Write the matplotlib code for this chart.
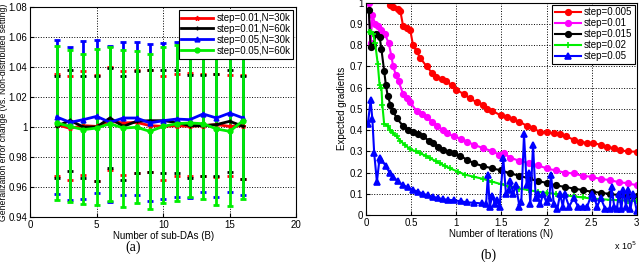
import numpy as np
import matplotlib
matplotlib.use("Agg")
import matplotlib.pyplot as plt

# ---- (a) generalization error change vs number of sub-DAs ----
subdas = [2, 3, 4, 5, 6, 7, 8, 9, 10, 11, 12, 13, 14, 15, 16]

red_mean = [1.0016, 0.9991, 1.0009, 1.0004, 1.0038, 1.0027, 1.0031, 1.0009, 1.0004, 1.0009, 1.0004, 1.0009, 1.0016, 1.0004, 1.0009]
red_hi = [1.0356, 1.0342, 1.0373, 1.0347, 1.0398, 1.0373, 1.0378, 1.0378, 1.0342, 1.0356, 1.0360, 1.0356, 1.0356, 1.0349, 1.0349]
red_lo = [0.9676, 0.9649, 0.9680, 0.9642, 0.9711, 0.9680, 0.9693, 0.9698, 0.9649, 0.9671, 0.9676, 0.9671, 0.9667, 0.9671, 0.9656]

black_mean = [1.0004, 1.0044, 1.0000, 1.0000, 1.0060, 1.0004, 1.0038, 1.0042, 1.0042, 1.0031, 1.0009, 1.0009, 1.0016, 1.0038, 1.0004]
black_hi = [1.0342, 1.0382, 1.0342, 1.0338, 1.0396, 1.0338, 1.0373, 1.0378, 1.0382, 1.0382, 1.0349, 1.0349, 1.0356, 1.0378, 1.0338]
black_lo = [0.9660, 0.9709, 0.9660, 0.9642, 0.9727, 0.9647, 0.9693, 0.9698, 0.9693, 0.9693, 0.9660, 0.9671, 0.9671, 0.9702, 0.9653]

blue_mean = [1.0067, 1.0031, 1.0049, 1.0071, 1.0031, 1.0060, 1.0060, 1.0027, 1.0042, 1.0053, 1.0049, 1.0087, 1.0060, 1.0093, 1.0060]
blue_hi = [1.0582, 1.0536, 1.0571, 1.0580, 1.0542, 1.0564, 1.0570, 1.0553, 1.0558, 1.0567, 1.0562, 1.0570, 1.0565, 1.0575, 1.0568]
blue_lo = [0.9553, 0.9513, 0.9520, 0.9560, 0.9500, 0.9549, 0.9549, 0.9509, 0.9522, 0.9533, 0.9527, 0.9569, 0.9533, 0.9569, 0.9549]

green_mean = [1.0027, 1.0004, 0.9982, 0.9993, 1.0022, 0.9993, 0.9998, 0.9971, 1.0004, 1.0022, 1.0027, 1.0022, 0.9987, 0.9971, 1.0042]
green_hi = [1.0542, 1.0516, 1.0487, 1.0520, 1.0531, 1.0516, 1.0504, 1.0487, 1.0531, 1.0549, 1.0527, 1.0500, 1.0500, 1.0476, 1.0500]
green_lo = [0.9511, 0.9500, 0.9484, 0.9478, 0.9507, 0.9464, 0.9493, 0.9453, 0.9493, 0.9504, 0.9533, 0.9518, 0.9478, 0.9471, 0.9522]

# ---- (b) expected gradients vs iterations (x in units of 1e5) ----
red_x = [0.26, 0.30, 0.35, 0.38, 0.41, 0.45, 0.49, 0.52, 0.56, 0.60, 0.67, 0.73, 0.78, 0.84, 0.89, 0.95, 1.0, 1.08, 1.15, 1.23, 1.3, 1.34, 1.4, 1.49, 1.56, 1.63, 1.7, 1.78, 1.85, 1.93, 2.0, 2.08, 2.15, 2.22, 2.3, 2.37, 2.45, 2.52, 2.6, 2.67, 2.75, 2.81, 2.9, 3.0]
red_y = [0.99, 0.98, 0.97, 0.96, 0.89, 0.88, 0.87, 0.80, 0.77, 0.74, 0.70, 0.67, 0.65, 0.64, 0.63, 0.61, 0.59, 0.57, 0.55, 0.53, 0.52, 0.50, 0.49, 0.47, 0.46, 0.45, 0.44, 0.42, 0.41, 0.39, 0.39, 0.385, 0.38, 0.37, 0.355, 0.345, 0.34, 0.34, 0.33, 0.32, 0.315, 0.305, 0.30, 0.298]

mag_x = [0.03, 0.05, 0.07, 0.10, 0.13, 0.17, 0.21, 0.25, 0.28, 0.30, 0.33, 0.36, 0.41, 0.45, 0.49, 0.56, 0.62, 0.67, 0.73, 0.79, 0.85, 0.9, 0.97, 1.05, 1.12, 1.2, 1.3, 1.4, 1.47, 1.53, 1.6, 1.7, 1.8, 1.9, 2.0, 2.1, 2.2, 2.3, 2.4, 2.5, 2.6, 2.7, 2.8, 2.9, 3.0]
mag_y = [1.0, 0.81, 0.94, 0.90, 0.89, 0.87, 0.85, 0.81, 0.75, 0.70, 0.66, 0.63, 0.57, 0.55, 0.53, 0.49, 0.475, 0.46, 0.44, 0.42, 0.40, 0.385, 0.37, 0.36, 0.345, 0.33, 0.315, 0.30, 0.285, 0.29, 0.27, 0.255, 0.245, 0.235, 0.22, 0.21, 0.20, 0.196, 0.185, 0.18, 0.17, 0.165, 0.155, 0.15, 0.14]

blk_x = [0.03, 0.05, 0.08, 0.11, 0.15, 0.17, 0.2, 0.22, 0.24, 0.27, 0.30, 0.34, 0.41, 0.47, 0.52, 0.58, 0.63, 0.7, 0.74, 0.8, 0.85, 0.92, 0.97, 1.04, 1.12, 1.2, 1.3, 1.4, 1.5, 1.6, 1.7, 1.8, 1.9, 2.0, 2.1, 2.2, 2.3, 2.4, 2.5, 2.6, 2.7, 2.8, 2.9, 3.0]
blk_y = [0.965, 0.79, 0.80, 0.85, 0.84, 0.78, 0.68, 0.61, 0.56, 0.52, 0.49, 0.455, 0.42, 0.40, 0.39, 0.38, 0.37, 0.35, 0.34, 0.32, 0.305, 0.295, 0.29, 0.28, 0.26, 0.243, 0.23, 0.22, 0.21, 0.196, 0.185, 0.173, 0.16, 0.152, 0.14, 0.133, 0.125, 0.118, 0.11, 0.105, 0.10, 0.094, 0.092, 0.09]

grn_x = [0.03, 0.06, 0.08, 0.1, 0.13, 0.15, 0.17, 0.18, 0.2, 0.24, 0.27, 0.30, 0.34, 0.38, 0.43, 0.49, 0.55, 0.6, 0.66, 0.71, 0.77, 0.82, 0.88, 0.93, 1.02, 1.1, 1.2, 1.3, 1.4, 1.5, 1.6, 1.7, 1.8, 1.9, 2.0, 2.1, 2.2, 2.3, 2.4, 2.5, 2.6, 2.7, 2.8, 2.9, 3.0]
grn_y = [0.86, 0.86, 0.85, 0.81, 0.71, 0.61, 0.60, 0.52, 0.43, 0.42, 0.40, 0.385, 0.37, 0.35, 0.33, 0.31, 0.30, 0.29, 0.28, 0.267, 0.255, 0.243, 0.23, 0.22, 0.204, 0.19, 0.18, 0.17, 0.157, 0.145, 0.133, 0.125, 0.118, 0.11, 0.105, 0.10, 0.094, 0.088, 0.083, 0.078, 0.075, 0.072, 0.07, 0.068, 0.066]

blu_x = [0.02, 0.05, 0.07, 0.09, 0.12, 0.15, 0.17, 0.22, 0.26, 0.30, 0.35, 0.41, 0.47, 0.52, 0.58, 0.63, 0.69, 0.74, 0.8, 0.85, 0.91, 0.97, 1.05, 1.12, 1.2, 1.28, 1.33, 1.35, 1.37, 1.4, 1.43, 1.45, 1.48, 1.52, 1.55, 1.58, 1.6, 1.63, 1.66, 1.7, 1.72, 1.75, 1.78, 1.8, 1.82, 1.85, 1.88, 1.9, 1.93, 1.96, 2.0, 2.03, 2.05, 2.08, 2.12, 2.15, 2.18, 2.2, 2.25, 2.3, 2.35, 2.4, 2.45, 2.5, 2.53, 2.56, 2.6, 2.65, 2.7, 2.72, 2.75, 2.78, 2.8, 2.83, 2.85, 2.88, 2.9, 2.93, 2.96, 3.0]
blu_y = [0.43, 0.54, 0.45, 0.29, 0.157, 0.27, 0.26, 0.23, 0.20, 0.18, 0.16, 0.14, 0.13, 0.118, 0.11, 0.10, 0.093, 0.086, 0.08, 0.075, 0.072, 0.07, 0.065, 0.06, 0.058, 0.055, 0.05, 0.19, 0.04, 0.09, 0.05, 0.07, 0.04, 0.27, 0.10, 0.12, 0.16, 0.10, 0.14, 0.04, 0.06, 0.38, 0.14, 0.20, 0.05, 0.33, 0.08, 0.10, 0.05, 0.10, 0.06, 0.08, 0.19, 0.05, 0.03, 0.10, 0.04, 0.10, 0.04, 0.08, 0.04, 0.04, 0.04, 0.10, 0.08, 0.04, 0.08, 0.03, 0.03, 0.13, 0.04, 0.03, 0.10, 0.03, 0.12, 0.04, 0.12, 0.03, 0.10, 0.02]

plt.rcParams['font.family'] = ['Liberation Sans', 'DejaVu Sans']
plt.rcParams['font.size'] = 7

fig = plt.figure(figsize=(6.4, 2.62), dpi=100)
ax1 = fig.add_axes([0.047, 0.172, 0.416, 0.801])
ax2 = fig.add_axes([0.572, 0.179, 0.423, 0.811])

def err(mean, hi, lo):
    m = np.array(mean)
    return [m - np.array(lo), np.array(hi) - m]

series_a = [
    (red_mean, red_hi, red_lo, 'red', '*', 'step=0.01,N=30k'),
    (black_mean, black_hi, black_lo, 'black', '+', 'step=0.01,N=60k'),
    (blue_mean, blue_hi, blue_lo, 'blue', '^', 'step=0.05,N=30k'),
    (green_mean, green_hi, green_lo, '#00ee00', 'o', 'step=0.05,N=60k'),
]
handles = []
for mean, hi, lo, c, mk, lab in series_a:
    cont = ax1.errorbar(subdas, mean, yerr=err(mean, hi, lo), color=c, marker=mk,
                        markersize=3.5, linewidth=2, elinewidth=2, capsize=2,
                        capthick=2, label=lab)
    handles.append(cont.lines[0])

ax1.set_xlim(0, 20)
ax1.set_ylim(0.94, 1.08)
ax1.set_xticks([0, 5, 10, 15, 20])
ax1.set_yticks(np.arange(0.94, 1.081, 0.02))
ax1.set_yticklabels(['0.94', '0.96', '0.98', '1', '1.02', '1.04', '1.06', '1.08'])
ax1.set_xlabel('Number of sub-DAs (B)', labelpad=1)
ax1.set_ylabel('Generalization error change (vs. Non-distributed setting)', labelpad=0, fontsize=6.2)
leg1 = ax1.legend(handles=handles, labels=[s[5] for s in series_a], loc='upper right',
                  fontsize=7, handlelength=3.2, fancybox=False,
                  edgecolor='black', framealpha=1, borderpad=0.3, labelspacing=0.1,
                  handletextpad=0.4, borderaxespad=0.3)
leg1.get_frame().set_linewidth(0.8)

series_b = [
    (red_x, red_y, 'red', 'o', 'step=0.005'),
    (mag_x, mag_y, 'magenta', 'o', 'step=0.01'),
    (blk_x, blk_y, 'black', 'o', 'step=0.015'),
    (grn_x, grn_y, '#00ee00', '+', 'step=0.02'),
    (blu_x, blu_y, 'blue', '^', 'step=0.05'),
]
for x, y, c, mk, lab in series_b:
    ax2.plot(x, y, color=c, marker=mk, markersize=4 if mk != '^' else 5,
             markeredgewidth=1.2, linewidth=1.5, label=lab)

ax2.set_xlim(0, 3)
ax2.set_ylim(0, 1)
ax2.set_xticks([0, 0.5, 1, 1.5, 2, 2.5, 3])
ax2.set_xticklabels(['0', '0.5', '1', '1.5', '2', '2.5', '3'])
ax2.set_yticks(np.arange(0, 1.01, 0.1))
ax2.set_yticklabels(['0', '0.1', '0.2', '0.3', '0.4', '0.5', '0.6', '0.7', '0.8', '0.9', '1'])
ax2.set_xlabel('Number of Iterations (N)', labelpad=1)
ax2.set_ylabel('Expected gradients', labelpad=2)
ax2.text(1.0, -0.115, r'x 10$^5$', transform=ax2.transAxes, ha='right', va='top', fontsize=6.5)
leg2 = ax2.legend(loc='upper right', fontsize=7, handlelength=2.6, fancybox=False,
                  edgecolor='black', framealpha=1, borderpad=0.3, labelspacing=0.1,
                  handletextpad=0.3, borderaxespad=0.2)
leg2.get_frame().set_linewidth(0.8)

for ax in (ax1, ax2):
    ax.grid(True, linestyle=':', color='black', linewidth=0.7)
    ax.tick_params(direction='in', length=3, pad=2)
    for s in ax.spines.values():
        s.set_linewidth(0.8)

fig.text(133 / 640, 1 - 247 / 262, '(a)', family='Liberation Serif', fontsize=10, ha='center', va='center')
fig.text(488 / 640, 1 - 255 / 262, '(b)', family='Liberation Serif', fontsize=10, ha='center', va='center')

fig.savefig('out.png', dpi=100)
